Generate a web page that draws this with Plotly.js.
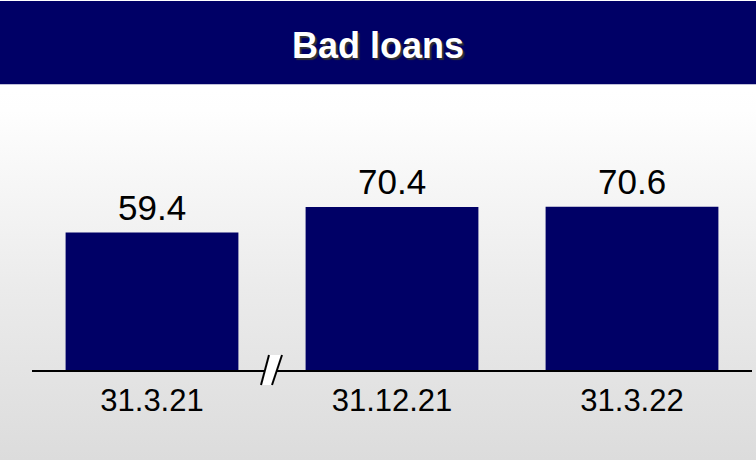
<!DOCTYPE html>
<html>
<head>
<meta charset="utf-8">
<script src="https://cdn.plot.ly/plotly-3.0.1.min.js"></script>
<style>
  html, body { margin: 0; padding: 0; background: #ffffff; }
  #wrap {
    position: relative; width: 756px; height: 462px;
    background: linear-gradient(to bottom, #ffffff 0px, #ffffff 90px, #fefefe 110px, #ebebeb 290px, #dcdcdc 460px, #ffffff 460px);
  }
  #chart { width: 756px; height: 462px; }
</style>
</head>
<body>
<div id="wrap"><div id="chart"></div></div>
<script>
const categories = ['31.3.21', '31.12.21', '31.3.22'];
const badLoans = [59.4, 70.4, 70.6];
const valueLabels = ['59.4', '70.4', '70.6'];
const chartTitle = 'Bad loans';

const FONT = 'Arial, "Liberation Sans", sans-serif';
const NAVY = '#000066';

const trace = {
  type: 'bar',
  x: categories,
  y: badLoans,
  cliponaxis: false,
  marker: { color: NAVY, line: { width: 0 } },
  hoverinfo: 'none'
};

const valueAnnotations = categories.map((c, i) => ({
  x: c, y: badLoans[i], xref: 'x', yref: 'y',
  text: valueLabels[i], showarrow: false,
  xanchor: 'center', yanchor: 'bottom', yshift: 4,
  font: { family: FONT, size: 35, color: '#000000' }
}));

const layout = {
  width: 756,
  height: 462,
  margin: { l: 32, r: 4, t: 100, b: 92, pad: 0 },
  paper_bgcolor: 'rgba(0,0,0,0)',
  plot_bgcolor: 'rgba(0,0,0,0)',
  bargap: 0.28,
  showlegend: false,
  title: {
    text: chartTitle,
    xref: 'container', x: 0.5, xanchor: 'center',
    yref: 'container', y: 1 - 45 / 462, yanchor: 'middle',
    font: { family: FONT, size: 36, color: '#ffffff', weight: 'bold', shadow: '2px 2px 1px #333333' }
  },
  xaxis: {
    type: 'category',
    showline: true, linecolor: '#000000', linewidth: 1.5,
    ticks: '', showgrid: false, zeroline: false,
    tickfont: { family: FONT, size: 31, color: '#000000' },
    ticklabelstandoff: 2,
    fixedrange: true
  },
  yaxis: {
    range: [0, 116.7],
    visible: false, showgrid: false, zeroline: false, showticklabels: false,
    fixedrange: true
  },
  annotations: valueAnnotations,
  shapes: [
    {
      type: 'rect', xref: 'paper', yref: 'paper',
      x0: -32 / 720, x1: 724 / 720,
      y0: (370 - 84.3) / 270, y1: (370 - 1) / 270,
      fillcolor: NAVY, line: { width: 0 }, layer: 'below'
    },
    {
      type: 'path', xref: 'x', yref: 'paper',
      xsizemode: 'pixel', ysizemode: 'pixel', xanchor: 0.5, yanchor: 0,
      path: 'M-11,-15 L-3,15 L10,15 L0,-15 Z',
      fillcolor: '#ffffff', line: { width: 0 }, layer: 'above'
    },
    {
      type: 'path', xref: 'x', yref: 'paper',
      xsizemode: 'pixel', ysizemode: 'pixel', xanchor: 0.5, yanchor: 0,
      path: 'M-11,-15 L-3,15',
      line: { color: '#000000', width: 2 }, layer: 'above'
    },
    {
      type: 'path', xref: 'x', yref: 'paper',
      xsizemode: 'pixel', ysizemode: 'pixel', xanchor: 0.5, yanchor: 0,
      path: 'M0,-15 L10,15',
      line: { color: '#000000', width: 2 }, layer: 'above'
    }
  ]
};

Plotly.newPlot('chart', [trace], layout, { displayModeBar: false, staticPlot: true });
</script>
</body>
</html>
